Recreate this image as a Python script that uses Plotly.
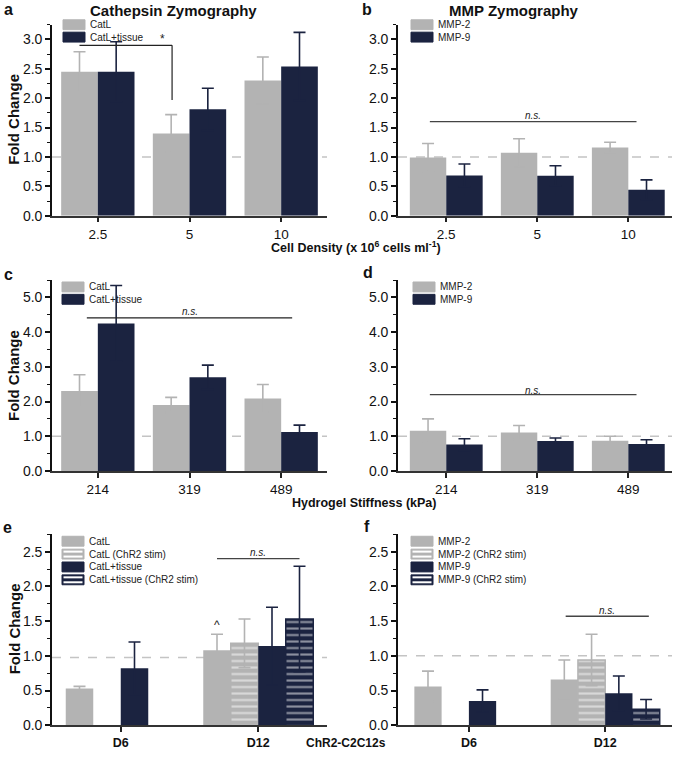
import plotly.graph_objects as go

# ---- data ----
density_labels = ["2.5", "5", "10"]
catl_density = [2.45, 1.40, 2.30]
catl_density_err = [0.34, 0.32, 0.40]
tissue_density = [2.45, 1.81, 2.54]
tissue_density_err = [0.51, 0.36, 0.58]
mmp2_density = [0.99, 1.07, 1.16]
mmp2_density_err = [0.24, 0.24, 0.09]
mmp9_density = [0.685, 0.68, 0.44]
mmp9_density_err = [0.195, 0.17, 0.17]

stiffness_labels = ["214", "319", "489"]
catl_stiff = [2.30, 1.90, 2.09]
catl_stiff_err = [0.47, 0.22, 0.40]
tissue_stiff = [4.25, 2.70, 1.12]
tissue_stiff_err = [1.09, 0.35, 0.20]
mmp2_stiff = [1.16, 1.11, 0.87]
mmp2_stiff_err = [0.34, 0.20, 0.13]
mmp9_stiff = [0.76, 0.86, 0.78]
mmp9_stiff_err = [0.17, 0.09, 0.12]

day_labels = ["D6", "D12"]
catl_day = [0.53, 1.08]
catl_day_err = [0.03, 0.23]
catl_stim_day = [None, 1.18]
catl_stim_day_err = [None, 0.35]
tissue_day = [0.82, 1.14]
tissue_day_err = [0.38, 0.56]
tissue_stim_day = [None, 1.53]
tissue_stim_day_err = [None, 0.76]
mmp2_day = [0.56, 0.66]
mmp2_day_err = [0.22, 0.28]
mmp2_stim_day = [None, 0.94]
mmp2_stim_day_err = [None, 0.37]
mmp9_day = [0.35, 0.46]
mmp9_day_err = [0.16, 0.25]
mmp9_stim_day = [None, 0.23]
mmp9_stim_day_err = [None, 0.14]

GRAY = "#b3b3b3"
NAVY = "#1b2340"
FONT = "Liberation Sans, Arial, sans-serif"
W, H = 675, 758


def fx(px):
    return px / W


def fy(px):
    return 1 - px / H


def bar(x, y, err, name, color, axis, striped=False):
    marker = dict(color=color, line=dict(width=0))
    if striped:
        marker = dict(color=color, line=dict(color=color, width=1.5),
                      pattern=dict(shape="-", fgcolor="white", bgcolor=color,
                                   size=6.5, solidity=0.32, fillmode="overlay"))
    return go.Bar(
        x=x, y=y, name=name, marker=marker, showlegend=False,
        xaxis="x" + axis, yaxis="y" + axis,
        error_y=dict(type="data", array=err, symmetric=True, color=color,
                     thickness=1.6, width=6),
    )


# (axis, x, y, err, name, color, striped)
series = [
    ("", density_labels, catl_density, catl_density_err, "CatL", GRAY, False),
    ("", density_labels, tissue_density, tissue_density_err, "CatL+tissue", NAVY, False),
    ("2", density_labels, mmp2_density, mmp2_density_err, "MMP-2", GRAY, False),
    ("2", density_labels, mmp9_density, mmp9_density_err, "MMP-9", NAVY, False),
    ("3", stiffness_labels, catl_stiff, catl_stiff_err, "CatL", GRAY, False),
    ("3", stiffness_labels, tissue_stiff, tissue_stiff_err, "CatL+tissue", NAVY, False),
    ("4", stiffness_labels, mmp2_stiff, mmp2_stiff_err, "MMP-2", GRAY, False),
    ("4", stiffness_labels, mmp9_stiff, mmp9_stiff_err, "MMP-9", NAVY, False),
    ("5", day_labels, catl_day, catl_day_err, "CatL", GRAY, False),
    ("5", day_labels, catl_stim_day, catl_stim_day_err, "CatL (ChR2 stim)", GRAY, True),
    ("5", day_labels, tissue_day, tissue_day_err, "CatL+tissue", NAVY, False),
    ("5", day_labels, tissue_stim_day, tissue_stim_day_err, "CatL+tissue (ChR2 stim)", NAVY, True),
    ("6", day_labels, mmp2_day, mmp2_day_err, "MMP-2", GRAY, False),
    ("6", day_labels, mmp2_stim_day, mmp2_stim_day_err, "MMP-2 (ChR2 stim)", GRAY, True),
    ("6", day_labels, mmp9_day, mmp9_day_err, "MMP-9", NAVY, False),
    ("6", day_labels, mmp9_stim_day, mmp9_stim_day_err, "MMP-9 (ChR2 stim)", NAVY, True),
]

fig = go.Figure()
for ax, x, y, err, name, color, striped in series:
    fig.add_trace(bar(x, y, err, name, color, ax, striped))

# panel geometry in pixels: (left, right, top, bottom)
panels = {
    "": (52, 327, 25, 218),
    "2": (398, 672, 25, 218),
    "3": (52, 327, 283, 476),
    "4": (398, 672, 283, 476),
    "5": (52, 327, 540, 733),
    "6": (398, 672, 540, 733),
}
xranges = {"": [-0.5, 2.5], "2": [-0.53, 2.48], "3": [-0.5, 2.5],
           "4": [-0.53, 2.48], "5": [-0.5, 1.5], "6": [-0.52, 1.49]}
yranges = {"": [0, 3.25], "2": [0, 3.25], "3": [0, 5.5], "4": [0, 5.5],
           "5": [0, 2.75], "6": [0, 2.75]}
ydticks = {"": (0.5, 0.25), "2": (0.5, 0.25), "3": (1, 0.5), "4": (1, 0.5),
           "5": (0.5, 0.25), "6": (0.5, 0.25)}

layout = {}
for k, (l, r, t, b) in panels.items():
    bold = k in ("5", "6")
    layout["xaxis" + k] = dict(
        domain=[fx(l), fx(r)], range=xranges[k], anchor="y" + k,
        type="category", showline=True, linecolor="#333", linewidth=1.6,
        ticks="outside", ticklen=5, tickwidth=1.5, tickcolor="#222",
        showgrid=False, zeroline=False, fixedrange=True,
        tickfont=dict(size=12.5 if bold else 13.5, color="#111", family=FONT,
                      weight="bold" if bold else "normal"),
    )
    dt, mdt = ydticks[k]
    layout["yaxis" + k] = dict(
        domain=[fy(b), fy(t)], range=yranges[k], anchor="x" + k,
        showline=True, linecolor="#111", linewidth=1.6,
        ticks="outside", ticklen=5, tickwidth=1.5, tickcolor="#111",
        dtick=dt, tick0=0, tickformat=".1f",
        minor=dict(dtick=mdt, ticks="outside", ticklen=3, tickcolor="#111", tickwidth=1.2),
        showgrid=False, zeroline=False, fixedrange=True,
        tickfont=dict(size=14, color="#111", family=FONT),
    )

fig.update_layout(
    **layout,
    width=W, height=H,
    margin=dict(l=0, r=0, t=0, b=0),
    paper_bgcolor="white", plot_bgcolor="white",
    barmode="group", bargap=0.2, bargroupgap=0,
    showlegend=False,
    font=dict(family=FONT, color="#111"),
)

# legend boxes drawn per panel: swatch left px, first row centre px, row step
legend_pos = {"": (63, 25, 12.5), "2": (411, 25, 12.5), "3": (62, 290, 12.5),
              "4": (413, 290, 12.5), "5": (62, 547, 13), "6": (411, 547, 13)}
rows = {}
for ax, x, y, err, name, color, striped in series:
    rows.setdefault(ax, []).append((name, color, striped))
for ax, items in rows.items():
    sx, sy, step = legend_pos[ax]
    for i, (name, color, striped) in enumerate(items):
        cy = sy + i * step
        fig.add_shape(type="rect", xref="paper", yref="paper",
                      x0=fx(sx), x1=fx(sx + 22), y0=fy(cy + 5), y1=fy(cy - 5),
                      fillcolor=color, line=dict(color=color, width=1))
        if striped:
            for off in (-2.5, 2.5):
                fig.add_shape(type="line", xref="paper", yref="paper",
                              x0=fx(sx + 1.5), x1=fx(sx + 20.5), y0=fy(cy + off), y1=fy(cy + off),
                              line=dict(color="white", width=2))
        fig.add_annotation(x=fx(sx + 25), y=fy(cy), xref="paper", yref="paper", text=name,
                           showarrow=False, xanchor="left", yanchor="middle",
                           font=dict(size=10, color="#222", family=FONT))

# dashed reference lines at fold change ~1
ref_levels = {"": 1.0, "2": 1.0, "3": 1.0, "4": 1.0, "5": 0.975, "6": 1.0}
for k, lvl in ref_levels.items():
    fig.add_shape(type="line", xref="x" + k + " domain", yref="y" + k,
                  x0=0, x1=1, y0=lvl, y1=lvl, layer="below",
                  line=dict(color="#c4c4c4", width=1.4, dash="dash"))

# significance markers
fig.add_shape(type="line", xref="x", yref="y", x0=-0.2, x1=0.81, y0=2.90, y1=2.90,
              line=dict(color="#222", width=1.2))
fig.add_shape(type="line", xref="x", yref="y", x0=0.81, x1=0.81, y0=2.90, y1=1.97,
              line=dict(color="#222", width=1.2))
fig.add_annotation(x=0.70, y=3.0, xref="x", yref="y", text="*", showarrow=False,
                   font=dict(size=12, color="#222"))

ns_lines = [  # axis, x0, x1, y, label y
    ("2", -0.18, 2.09, 1.60, 1.70),
    ("3", -0.12, 2.12, 4.41, 4.59),
    ("4", -0.18, 2.09, 2.20, 2.31),
    ("5", 0.70, 1.30, 2.40, 2.49),
    ("6", 0.71, 1.32, 1.57, 1.65),
]
for k, x0, x1, yl, yt in ns_lines:
    fig.add_shape(type="line", xref="x" + k, yref="y" + k, x0=x0, x1=x1, y0=yl, y1=yl,
                  line=dict(color="#444" if k != "3" else "#222", width=1.3))
    fig.add_annotation(x=(x0 + x1) / 2, y=yt, xref="x" + k, yref="y" + k, text="<i>n.s.</i>",
                       showarrow=False, font=dict(size=10, color="#222"))
fig.add_annotation(x=0.70, y=1.44, xref="x5", yref="y5", text="^", showarrow=False,
                   font=dict(size=12, color="#222"))

# titles, panel letters, axis titles
texts = [
    ("Cathepsin Zymography", 173, 11, 15),
    ("MMP Zymography", 514, 11, 15),
    ("a", 8, 10, 16), ("b", 367, 10, 16),
    ("c", 8, 277, 16), ("d", 368, 275, 16),
    ("e", 7, 533, 16), ("f", 367, 532, 16),
    ("Cell Density (x 10<sup>6</sup> cells ml<sup>-1</sup>)", 356, 250, 12.5),
    ("Hydrogel Stiffness (kPa)", 364, 508, 12.5),
    ("ChR2-C2C12s", 346, 751, 12),
]
for t, x, y, s in texts:
    fig.add_annotation(x=fx(x), y=fy(y), xref="paper", yref="paper", text="<b>" + t + "</b>",
                       showarrow=False, xanchor="center", yanchor="middle",
                       font=dict(size=s, color="#111", family=FONT))
for y in (121, 380, 636):
    fig.add_annotation(x=fx(14), y=fy(y), xref="paper", yref="paper", text="<b>Fold Change</b>",
                       textangle=-90, showarrow=False, xanchor="center", yanchor="middle",
                       font=dict(size=15, color="#111", family=FONT))

page_css = ("var s=document.documentElement.style, b=document.body.style;"
            "b.margin='0px'; b.padding='0px'; b.overflow='hidden'; s.overflow='hidden';"
            "b.height='758px'; s.height='758px';")
fig.write_html("out.html", config={"displayModeBar": False}, post_script=page_css)
